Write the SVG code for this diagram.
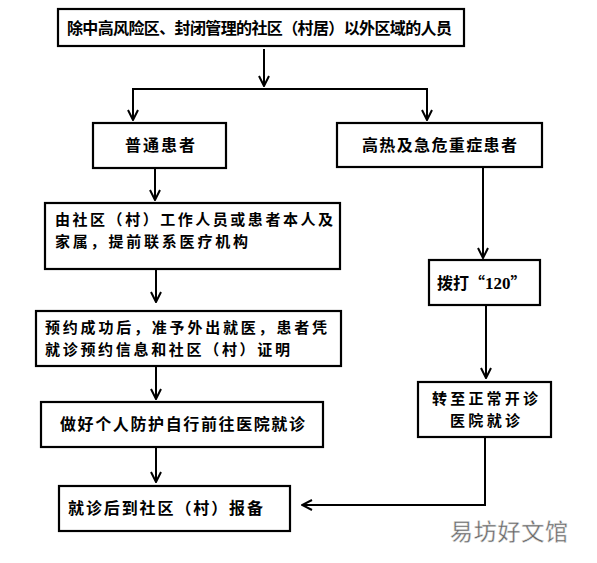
<svg xmlns="http://www.w3.org/2000/svg" width="597" height="563" viewBox="0 0 597 563">
<defs>
<marker id="arr" viewBox="0 0 12 12" refX="11" refY="6" markerWidth="12" markerHeight="12" markerUnits="userSpaceOnUse" orient="auto">
<path d="M1,1 L11,6 L1,11" fill="none" stroke="#000" stroke-width="2"/>
</marker>
<style>
.box{fill:#fff;stroke:#000;stroke-width:2.2}
.t{font-family:"Noto Sans CJK SC","Noto Sans CJK JP",sans-serif;font-weight:bold;font-size:16px;fill:#000}
.t2{font-size:15px}
.ln{fill:none;stroke:#000;stroke-width:2}
</style>
</defs>
<rect width="597" height="563" fill="#fff"/>
<g id="connectors">
<line class="ln" x1="264" y1="49" x2="264" y2="86" marker-end="url(#arr)"/>
<polyline class="ln" points="133,120 133,89 427,89 427,120"/>
<line class="ln" x1="133" y1="100" x2="133" y2="120" marker-end="url(#arr)"/>
<line class="ln" x1="427" y1="100" x2="427" y2="120" marker-end="url(#arr)"/>
<line class="ln" x1="155" y1="169" x2="155" y2="200" marker-end="url(#arr)"/>
<line class="ln" x1="156" y1="270" x2="156" y2="302" marker-end="url(#arr)"/>
<line class="ln" x1="156" y1="367" x2="156" y2="399" marker-end="url(#arr)"/>
<line class="ln" x1="156" y1="448" x2="156" y2="482" marker-end="url(#arr)"/>
<line class="ln" x1="483" y1="168" x2="483" y2="258" marker-end="url(#arr)"/>
<line class="ln" x1="486" y1="306" x2="486" y2="378" marker-end="url(#arr)"/>
<polyline class="ln" points="485,438 485,505 302,505" marker-end="url(#arr)"/>
</g>
<g id="n-top">
<rect class="box" x="58" y="9" width="406" height="37"/>
<text class="t" x="67" y="34" font-size="15" textLength="385" lengthAdjust="spacing">除中高风险区、封闭管理的社区（村居）以外区域的人员</text>
</g>
<g id="n-normal">
<rect class="box" x="93" y="123" width="133" height="45"/>
<text class="t" x="125" y="151" textLength="70" lengthAdjust="spacing">普通患者</text>
</g>
<g id="n-severe">
<rect class="box" x="337" y="123" width="205" height="44"/>
<text class="t" x="362" y="151" textLength="155" lengthAdjust="spacing">高热及急危重症患者</text>
</g>
<g id="n-contact">
<rect class="box" x="45" y="203" width="295" height="66"/>
<text class="t t2" x="55" y="225" textLength="278" lengthAdjust="spacing">由社区（村）工作人员或患者本人及</text>
<text class="t t2" x="55" y="247" textLength="193" lengthAdjust="spacing">家属，提前联系医疗机构</text>
</g>
<g id="n-booked">
<rect class="box" x="36" y="311" width="305" height="55"/>
<text class="t t2" x="45" y="333" textLength="282" lengthAdjust="spacing">预约成功后，准予外出就医，患者凭</text>
<text class="t t2" x="45" y="355" textLength="245" lengthAdjust="spacing">就诊预约信息和社区（村）证明</text>
</g>
<g id="n-protect">
<rect class="box" x="41" y="402" width="282" height="45"/>
<text class="t" x="60" y="430" textLength="245" lengthAdjust="spacing">做好个人防护自行前往医院就诊</text>
</g>
<g id="n-report">
<rect class="box" x="59" y="486" width="231" height="45"/>
<text class="t" x="68" y="514" textLength="195" lengthAdjust="spacing">就诊后到社区（村）报备</text>
</g>
<g id="n-120">
<rect class="box" x="429" y="260" width="111" height="45"/>
<text class="t" x="437" y="289">拨打“<tspan font-family="Liberation Serif" font-size="17">120</tspan>”</text>
</g>
<g id="n-transfer">
<rect class="box" x="418" y="382" width="133" height="55"/>
<text class="t t2" x="432" y="404" textLength="106" lengthAdjust="spacing">转至正常开诊</text>
<text class="t t2" x="450" y="426" textLength="70" lengthAdjust="spacing">医院就诊</text>
</g>
<g id="watermark">
<text x="450" y="540" font-family="Noto Sans CJK SC,sans-serif" font-size="23" fill="#666" stroke="#ddd" stroke-width="0.5" textLength="118" lengthAdjust="spacing">易坊好文馆</text>
</g>
</svg>
